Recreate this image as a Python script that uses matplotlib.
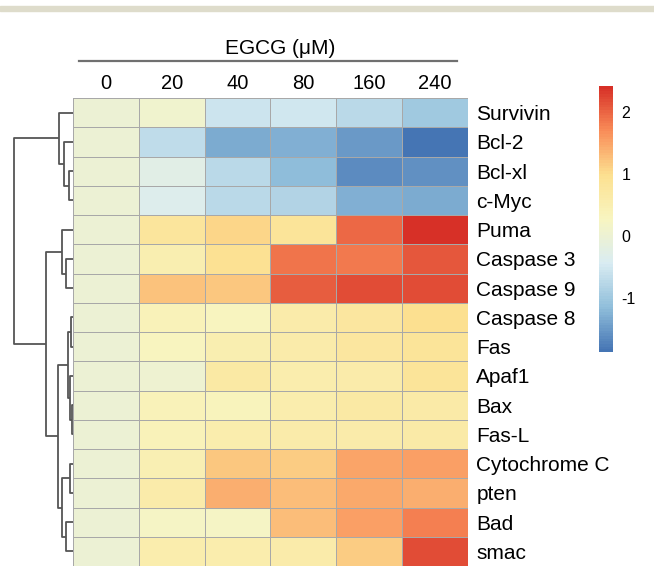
import numpy as np
import matplotlib
matplotlib.use("Agg")
import matplotlib.pyplot as plt
from matplotlib.colors import LinearSegmentedColormap
from matplotlib.lines import Line2D
from matplotlib.patches import Rectangle

plt.rcParams['font.family'] = ['Liberation Sans', 'DejaVu Sans']
plt.rcParams['axes.unicode_minus'] = False

# data
doses = ["0", "20", "40", "80", "160", "240"]
genes = ["Survivin", "Bcl-2", "Bcl-xl", "c-Myc", "Puma", "Caspase 3", "Caspase 9",
         "Caspase 8", "Fas", "Apaf1", "Bax", "Fas-L", "Cytochrome C", "pten", "Bad", "smac"]

survivin = [0.0, 0.10, -0.55, -0.50, -0.75, -1.00]
bcl2 = [0.0, -0.70, -1.35, -1.30, -1.50, -1.87]
bclxl = [0.0, -0.25, -0.72, -1.15, -1.65, -1.58]
cmyc = [0.0, -0.35, -0.72, -0.80, -1.28, -1.35]
puma = [0.0, 0.80, 1.05, 0.85, 1.95, 2.42]
casp3 = [0.0, 0.50, 0.95, 1.90, 1.85, 2.10]
casp9 = [0.0, 1.25, 1.20, 2.05, 2.20, 2.20]
casp8 = [0.0, 0.40, 0.30, 0.60, 0.75, 1.00]
fas = [0.0, 0.30, 0.50, 0.60, 0.75, 0.85]
apaf1 = [0.0, 0.05, 0.70, 0.55, 0.60, 0.85]
bax = [0.0, 0.40, 0.35, 0.55, 0.70, 0.65]
fasl = [0.0, 0.38, 0.55, 0.58, 0.58, 0.65]
cytc = [0.0, 0.45, 1.20, 1.15, 1.50, 1.55]
pten = [0.0, 0.60, 1.42, 1.30, 1.45, 1.40]
bad = [0.0, 0.20, 0.22, 1.30, 1.55, 1.80]
smac = [0.0, 0.55, 0.55, 0.60, 1.15, 2.18]

values = np.array([survivin, bcl2, bclxl, cmyc, puma, casp3, casp9, casp8,
                   fas, apaf1, bax, fasl, cytc, pten, bad, smac])

# row clustering: (child a, child b, height); ids >= 16 are earlier merges
merges = [
    (2, 3, 4.4), (1, 16, 8.7), (0, 17, 14.4),
    (5, 6, 7.0), (4, 19, 11.0),
    (7, 8, 1.7), (10, 11, 1.2), (9, 22, 3.2), (21, 23, 5.0),
    (12, 13, 3.4), (14, 15, 7.0), (25, 26, 11.0),
    (24, 27, 15.0), (20, 28, 26.7), (18, 29, 58.7),
]

W, H = 654, 566
fig = plt.figure(figsize=(W / 100, H / 100), dpi=100)

# pheatmap style palette, slightly muted like the print
cmap = LinearSegmentedColormap.from_list(
    "rdylbu_r", ["#4575B4", "#91BFDB", "#D9ECF2", "#F8F5C0", "#FCE090", "#F98D59", "#D73027"], N=100)
vmin, vmax = -1.87, 2.42

hm_left, hm_right, hm_top = 73, 468, 98
ax = fig.add_axes([hm_left / W, 0, (hm_right - hm_left) / W, (H - hm_top) / H])
mesh = ax.pcolormesh(values, cmap=cmap, vmin=vmin, vmax=vmax,
                     edgecolors="#A8A8A8", linewidth=0.7)
ax.set_xlim(0, len(doses))
ax.set_ylim(len(genes), 0)
ax.set_xticks(np.arange(len(doses)) + 0.5)
ax.set_xticklabels(doses, fontsize=14.5)
ax.xaxis.tick_top()
ax.set_yticks(np.arange(len(genes)) + 0.5)
ax.set_yticklabels(genes, fontsize=15)
ax.yaxis.tick_right()
ax.tick_params(length=0)
ax.tick_params(axis="x", pad=3.5)
ax.tick_params(axis="y", pad=6)
for s in ax.spines.values():
    s.set_visible(False)

# dendrogram
axd = fig.add_axes([0, 0, hm_left / W, (H - hm_top) / H])
ypos = {i: i + 0.5 for i in range(len(genes))}
xpos = {i: 0.0 for i in range(len(genes))}
for k, (a, b, h) in enumerate(merges):
    nid = len(genes) + k
    ya, yb = ypos[a], ypos[b]
    axd.plot([xpos[a], h, h, xpos[b]], [ya, ya, yb, yb], color="#555555", lw=1.3,
             solid_capstyle="butt")
    ypos[nid] = (ya + yb) / 2
    xpos[nid] = h
axd.set_xlim(hm_left, 0)
axd.set_ylim(len(genes), 0)
axd.axis("off")

# colorbar
cax = fig.add_axes([599 / W, (H - 352) / H, 14 / W, (352 - 86) / H])
cb = fig.colorbar(mesh, cax=cax, ticks=[-1, 0, 1, 2])
cb.outline.set_visible(False)
cax.tick_params(length=0, labelsize=11.5, pad=6)

# header: EGCG label with rule
fig.add_artist(Line2D([79 / W, 457 / W], [1 - 61 / H] * 2, color="#707070", lw=1.6))
fig.text(280 / W, 1 - 48 / H, "EGCG (μM)", ha="center", va="center", fontsize=15)

# page band at top
fig.add_artist(Rectangle((0, 1 - 11 / H), 1, 5 / H, color="#DEDCCB", transform=fig.transFigure))

fig.savefig("out.png", dpi=100)
plt.close()
